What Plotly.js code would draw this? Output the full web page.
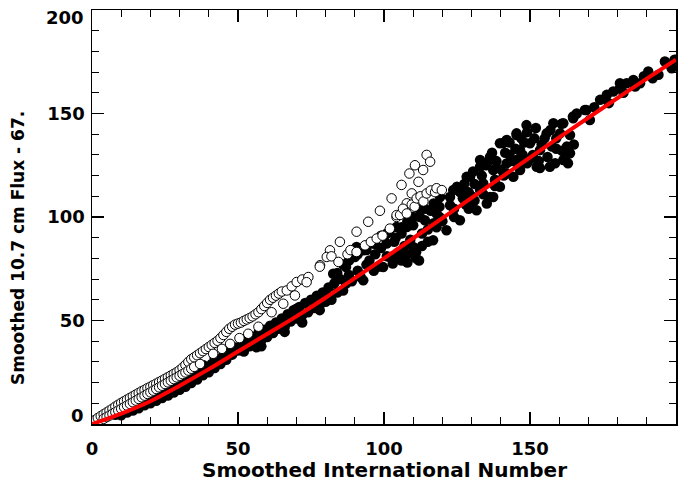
<!DOCTYPE html>
<html>
<head>
<meta charset="utf-8">
<script src="https://cdn.plot.ly/plotly-3.0.1.min.js"></script>
<style>html,body{margin:0;padding:0;background:#fff;}#plot{width:694px;height:484px;}</style>
</head>
<body>
<div id="plot"></div>
<script>
// Fit curve (red)
const fitX = [0,10,20,30,40,50,60,70,80,90,100,120,140,160,180,200];
const fitY = [0,5,11,18.5,26.5,35,43.5,52,61,70.5,80,99.5,119,138.5,157.5,176];

// Filled circles
const filledX = [
8,9,10,11,12,13,14,15,16,17,18,19,20,21,22,23,24,25,26,27,28,29,30,31,32,33,34,35,36,37,38,39,40,41,42,43,44,45,46,47,48,49,50,
14,18,22,26,30,34,38,42,46,
51,52,53,54,55,56,57,58,59,60,61,62,63,64,65,66,67,68,69,70,71,72,73,74,75,76,77,78,79,80,
56.3,58,66,72,78,45,53,59.8,64.4,70,
80,81,82,82.6,83,84,85,86,87,87,88,89,90,90.6,91,92,92.9,93,94,95,96,96.5,97,98,99,99.7,100,100.9,101,102,102,103,103.5,104.3,105,105.5,106,107,107.8,108,109,110,110,111,112,112.3,113,114,115,116.8,117,118,118,119.2,120,121.4,122.6,122.6,123.7,124,125,
84,86,88,91,94,97,99,101,104,106,108,110,112,114,116,119,104,106,108,111,113,115,117,119,
126,127,128,128.3,129.5,130,131,131.7,132.9,132.9,132.9,134,135.2,136.3,136.3,136.3,137.4,137.4,138,139.7,139.7,140.8,141,142,142,143,144.3,145.4,145.4,146,146.6,146.6,148,148.8,149,150,151,152.3,153.4,153.4,155,155.7,156.8,158,158.6,159,160.3,160.8,161.4,161.4,162,162.6,163.7,163.7,164.7,164.8,130,134,138,142,146,
127.5,129,130.5,133.5,135,137,138.5,140,141.5,143,144,145,147,147.5,149,150,151.5,152,153,154,156,157,159,161,163,165,157.5,124,127,131,126,129,
166,168.8,169.3,170.5,172,174,176.3,177,178.5,180.8,180.8,182,183.1,185.4,186,187.7,189,190.5,192,194,196.2,198.5,199.5
];
const filledY = [
4.5,5,4.2,6.5,5.5,7.5,6.5,8.8,7.6,10.2,9,11.5,10,12.8,11.2,14,12.5,15.5,13.8,17,15.2,18.5,16.5,20,18,21.5,19.8,23.5,21.5,25,23.5,27,25,29,27,31,29,33,31,35,33.5,37,35.5,
10.5,13.5,16,19,22,25,28.5,32,35.5,
38,35,40.5,37.5,42,38,44,40.5,45.5,42,47.5,44,49,46,51,47,53,49.5,55,51,56.5,52.5,58.5,54,60,56,62,57.5,63.5,59,
37.1,37.5,44.5,49,55,35.5,41.2,45.2,49.2,55.7,
63,66,60,72.6,68,63.5,70,64.5,75.8,67.8,72,69,80.7,85.5,74,71,69.4,83.9,77,79,87.2,74,82,76,85,75.8,90.4,87.2,81,93.6,80.7,77.5,88,95.2,83,80.7,92,86,95.2,78,89,85.5,96,80,79,100,92,98.4,88,88.8,106.5,101.7,95,109.7,98,93.6,105.7,109.7,113,100,114.6,
73,77,79,82,84,87,91,92,90,95,98,100,104,104,103,105,80,79,82,83,86,94,97,100,
98.4,113,106,119.4,119.4,110,116,103.3,127.5,124.3,113,116.2,106.5,129,127.5,109.7,122.7,109.7,118,135.6,114.6,135.7,120,137.2,125.9,130,119.4,140.4,139.6,128,132.3,122.7,136,144.4,126,135.6,130,124.3,132.3,123.7,138,140.4,124.3,145.3,126,133,140.4,145,127.5,145.3,128.5,134,130.8,139.6,148.5,147.7,107,111,115,121,125,
116,112,122,120,125,131,127,123,131,136,127,133,138,130,141,128,138,143,127,135,129,142,138,132,126,135,134,104,109,108,112,104,
150,151.7,151.7,146.9,153,156.6,159,155,160.6,162.2,164.6,160,164.6,166.2,163,164.6,168,170.3,167,168.7,175.1,171.9,176
];

// Open circles, upper branch
const openUpX = [0,1,2,3,4,5,6,7,8,9,10,11,12,13,14,15,16,17,18,19,20,21,22,23,24,25,26,27,28,29,30,31,32,33,34,35,36,37,38,39,40,41,42,43,44,45,46,47,48,49,50,51,52,53,54,55,56,57,58,59,60,61,62,63,64,65,66.7,68.4,70.1,72,74.1,78.1,81.5,84.9,90.6,94.6,98.6,102.6,106,108.7,110.6,114.6,115.8,113.4,111.8,109.5,107.8,104.3];
const openUpY = [1,1.9,2.9,3.8,4.7,5.6,6.5,7.4,8.4,9.3,10.2,11,11.8,12.6,13.4,14.2,15,15.8,16.5,17.3,18,18.8,19.5,20.3,21,21.8,22.6,23.4,24.2,25,26,27.2,28.5,30,31.3,32.2,33.2,34.2,35.2,36.2,37.2,38.2,39.2,40.2,41.5,43,44.5,46,47,48,48.5,49,49.8,50.5,51.2,52,53,54,55.5,57,58.5,60,61,62,63,64,64.5,66.5,68.6,69.8,71,76.7,83.9,88,92.9,97.7,103,109,115.5,121,125,130,126.7,122.7,117,111.4,106.6,100];

// Open circles, lower branch
const openLoX = [4,5,6,7,8,9,10,11,12,13,14,15,16,17,18,19,20,21,22,23,24,25,26,27,28,29,30,31,32,33,34,35,37,41.5,44.5,47.3,50.5,53.5,57,61.5,65.5,69.5,73.5,78,80.4,82,84.4,87.5,88.5,90.6,93.5,95.5,97.5,99.5,102,104.3,105.5,106.5,107.8,109.5,110.5,111.2,112.5,113.5,114.6,116,117.5,118,119.8];
const openLoY = [2.5,3.3,4.1,4.9,5.7,6.5,7.3,8.1,8.9,9.7,10.5,11.3,12.1,12.9,13.7,14.5,15.3,16.1,16.9,17.7,18.5,19.3,20.1,20.9,21.7,22.5,23.3,24.1,24.9,25.8,26.7,27.6,29,33.9,36.3,38.7,41.5,43.6,47,54,58.1,62.1,68.5,76,80.7,81,78.3,82,84,83.1,86.3,88,89.6,91,94.4,100.9,101,104,101.7,106,105,109,110,107.5,111.4,112.8,112,113.9,113];

const xTickVals = [0,50,100,150,200];
const xTickText = ['0','50','100','150','200'];
const yTickVals = [0,50,100,150,200];
const yTickText = ['','50','100','150',''];

const xTitle = 'Smoothed International Number';
const yTitle = 'Smoothed 10.7 cm Flux - 67.';

const fontFam = 'DejaVu Sans';

const traces = [
  {x: filledX, y: filledY, mode: 'markers', type: 'scatter',
   marker: {size: 10.5, color: '#000', line: {width: 0}}, hoverinfo: 'skip'},
  {x: openUpX, y: openUpY, mode: 'markers', type: 'scatter',
   marker: {size: 9.5, color: '#fff', line: {width: 1, color: '#000'}}, hoverinfo: 'skip'},
  {x: openLoX, y: openLoY, mode: 'markers', type: 'scatter',
   marker: {size: 9.5, color: '#fff', line: {width: 1, color: '#000'}}, hoverinfo: 'skip'},
  {x: fitX, y: fitY, mode: 'lines', type: 'scatter', line: {color: '#ff0000', width: 4, shape: 'spline'}, hoverinfo: 'skip'}
];

const axCommon = {
  showgrid: false, zeroline: false, showline: true, linecolor: '#000', linewidth: 1.5,
  ticks: 'inside', ticklen: 12, tickwidth: 1.5, tickcolor: '#000', mirror: 'allticks',
  minor: {dtick: 10, ticks: 'inside', ticklen: 7, tickwidth: 1, tickcolor: '#000'},
  tickfont: {family: fontFam, size: 18, weight: 'bold', color: '#000'}
};

const layout = {
  width: 694, height: 484,
  margin: {l: 92, r: 18, t: 10, b: 60},
  paper_bgcolor: '#fff', plot_bgcolor: '#fff',
  showlegend: false,
  xaxis: Object.assign({}, axCommon, {range: [0, 200], tickmode: 'array', tickvals: xTickVals, ticktext: xTickText, ticklabelstandoff: 8}),
  yaxis: Object.assign({}, axCommon, {range: [0, 200], tickmode: 'array', tickvals: yTickVals, ticktext: yTickText, ticklabelstandoff: 2}),
  annotations: [
    {text: '0', xref: 'paper', yref: 'y', x: 0, y: 0, xanchor: 'right', yanchor: 'middle', xshift: -6, yshift: 9, showarrow: false,
     font: {family: fontFam, size: 18, weight: 'bold', color: '#000'}},
    {text: '200', xref: 'paper', yref: 'y', x: 0, y: 200, xanchor: 'right', yanchor: 'middle', xshift: -6, yshift: -7, showarrow: false,
     font: {family: fontFam, size: 18, weight: 'bold', color: '#000'}},
    {text: xTitle, xref: 'paper', yref: 'paper', x: 0.5, y: 0, xanchor: 'center', yanchor: 'top', yshift: -32, showarrow: false,
     font: {family: fontFam, size: 20, weight: 'bold', color: '#000'}},
    {text: yTitle, xref: 'paper', yref: 'y', x: 0, y: 85, xanchor: 'center', yanchor: 'middle', xshift: -74, textangle: -90, showarrow: false,
     font: {family: fontFam, size: 17, weight: 'bold', color: '#000'}}
  ]
};

Plotly.newPlot('plot', traces, layout, {staticPlot: true, displayModeBar: false});
</script>
</body>
</html>
